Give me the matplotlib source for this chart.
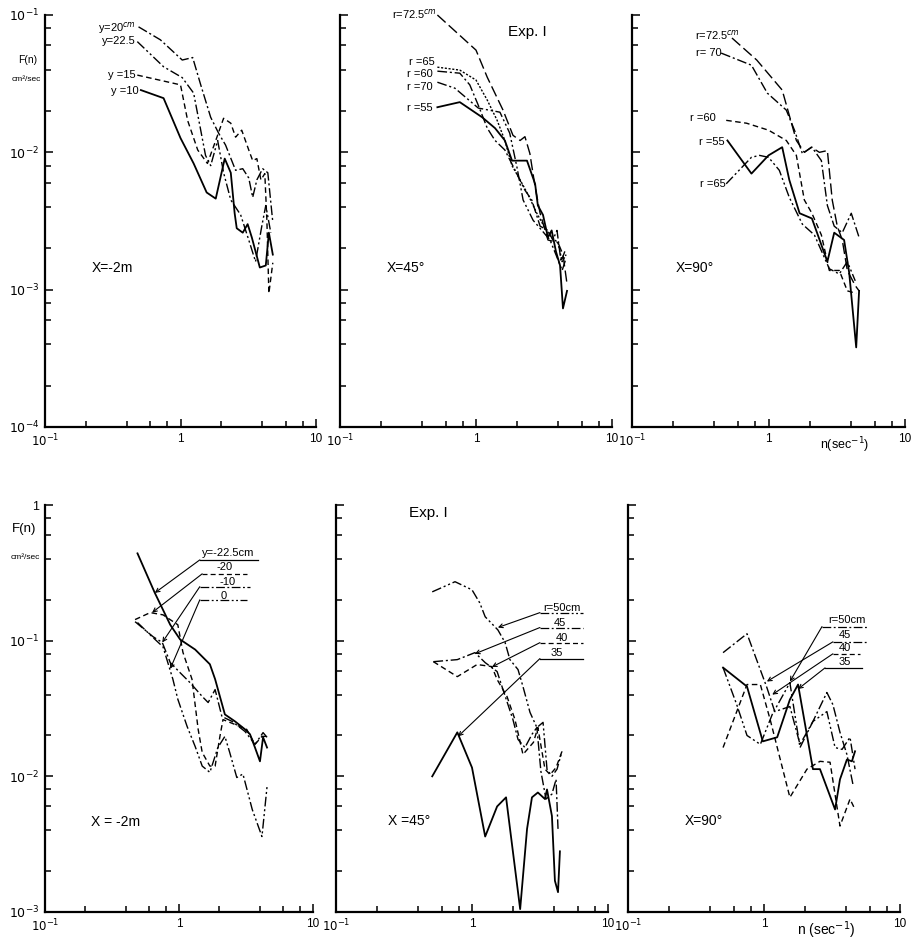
import matplotlib
matplotlib.use("Agg")
import matplotlib.pyplot as plt
from matplotlib.ticker import FixedLocator, LogLocator, FuncFormatter, NullFormatter

plt.rcParams["font.family"] = ["Liberation Sans", "DejaVu Sans"]
plt.rcParams["mathtext.fontset"] = "dejavusans"

# ---------------------------------------------------------------------
# Spectra F(n) [cm^2/sec] vs frequency n [1/sec], Exp. I
# ---------------------------------------------------------------------

# upper row, X = -2 m
tl_n_y20 = [0.49, 0.71, 1.03, 1.23, 1.41, 1.67, 1.91, 2.15, 2.55, 2.88, 3.19, 3.41, 3.66, 4.04, 4.41, 4.80]
tl_F_y20 = [0.082, 0.066, 0.047, 0.049, 0.031, 0.018, 0.0138, 0.0113, 0.0074, 0.0076, 0.0065, 0.0047, 0.0063, 0.0076, 0.0071, 0.0031]
tl_n_y225 = [0.48, 0.75, 1.03, 1.25, 1.41, 1.53, 1.67, 1.88, 2.08, 2.35, 2.78, 3.19, 3.58, 3.98, 4.26, 4.64]
tl_F_y225 = [0.064, 0.042, 0.035, 0.027, 0.0145, 0.0095, 0.008, 0.0122, 0.0071, 0.0045, 0.0035, 0.0023, 0.0016, 0.0029, 0.0041, 0.0026]
tl_n_y15 = [0.48, 1.0, 1.13, 1.34, 1.58, 1.82, 2.08, 2.35, 2.55, 2.83, 3.19, 3.41, 3.66, 3.92, 4.19, 4.34, 4.49, 4.80]
tl_F_y15 = [0.0365, 0.031, 0.017, 0.0104, 0.0083, 0.0122, 0.0177, 0.0163, 0.0129, 0.0145, 0.0104, 0.0087, 0.009, 0.0063, 0.007, 0.0032, 0.00094, 0.00157]
tl_n_y10 = [0.51, 0.75, 1.0, 1.25, 1.56, 1.82, 2.12, 2.35, 2.51, 2.60, 2.88, 3.13, 3.36, 3.85, 4.26, 4.49, 4.80]
tl_F_y10 = [0.0284, 0.0248, 0.0127, 0.0083, 0.0051, 0.0046, 0.009, 0.0071, 0.0036, 0.0028, 0.0026, 0.003, 0.0024, 0.00145, 0.0015, 0.0026, 0.0018]

# upper row, X = 45 deg
tm_n_r725 = [0.52, 1.0, 1.21, 1.58, 1.87, 2.11, 2.29, 2.49, 2.72, 2.96, 3.38, 4.01, 4.36, 4.67]
tm_F_r725 = [0.1, 0.0555, 0.0352, 0.0203, 0.0133, 0.0122, 0.013, 0.0098, 0.0056, 0.0036, 0.0023, 0.0022, 0.0018, 0.0011]
tm_n_r65 = [0.52, 0.76, 1.0, 1.21, 1.43, 1.63, 1.84, 2.11, 2.42, 2.8, 3.22, 3.6, 4.01, 4.3, 4.6]
tm_F_r65 = [0.0417, 0.0397, 0.0336, 0.024, 0.0171, 0.0122, 0.008, 0.0063, 0.0049, 0.0036, 0.0028, 0.0024, 0.0022, 0.0016, 0.0018]
tm_n_r60 = [0.52, 0.76, 0.9, 1.04, 1.21, 1.38, 1.63, 1.94, 2.29, 2.57, 2.96, 3.38, 3.67, 3.94, 4.22, 4.5]
tm_F_r60 = [0.039, 0.0377, 0.031, 0.022, 0.015, 0.0122, 0.0104, 0.0074, 0.0053, 0.0045, 0.0029, 0.0027, 0.0023, 0.0027, 0.0016, 0.0019]
tm_n_r70 = [0.52, 0.7, 1.04, 1.5, 1.77, 2.0, 2.22, 2.63, 3.05, 3.5, 3.87, 4.3, 4.6]
tm_F_r70 = [0.0324, 0.0293, 0.021, 0.0196, 0.0138, 0.0078, 0.0045, 0.0032, 0.0027, 0.0023, 0.0018, 0.00138, 0.0017]
tm_n_r55 = [0.52, 0.76, 1.11, 1.38, 1.63, 1.84, 2.37, 2.72, 2.85, 3.11, 3.38, 3.6, 3.87, 4.15, 4.36, 4.67]
tm_F_r55 = [0.0213, 0.0232, 0.018, 0.015, 0.0122, 0.0087, 0.0087, 0.0059, 0.0041, 0.0035, 0.0024, 0.0027, 0.0019, 0.0015, 0.00073, 0.00098]

# upper row, X = 90 deg
tr_n_r725 = [0.54, 0.82, 1.26, 1.42, 1.6, 1.83, 2.06, 2.36, 2.7, 2.93, 3.19, 3.47, 3.78, 4.32, 4.61]
tr_F_r725 = [0.068, 0.047, 0.0284, 0.0186, 0.0122, 0.010, 0.0109, 0.010, 0.0103, 0.0045, 0.0029, 0.0023, 0.00138, 0.00107, 0.00098]
tr_n_r70 = [0.45, 0.75, 0.98, 1.35, 1.55, 1.77, 2.08, 2.44, 2.7, 3.03, 3.47, 4.04, 4.61]
tr_F_r70 = [0.0528, 0.0431, 0.027, 0.0203, 0.0145, 0.0098, 0.0109, 0.0087, 0.0041, 0.0029, 0.0026, 0.0036, 0.0024]
tr_n_r60 = [0.49, 0.69, 1.0, 1.35, 1.6, 1.69, 1.83, 2.08, 2.44, 2.79, 3.3, 3.78, 4.39]
tr_F_r60 = [0.0171, 0.0163, 0.0145, 0.0122, 0.0095, 0.007, 0.0045, 0.0036, 0.0025, 0.00138, 0.00138, 0.00098, 0.00094]
tr_n_r55 = [0.5, 0.75, 1.0, 1.26, 1.42, 1.69, 2.08, 2.7, 3.03, 3.58, 3.9, 4.39, 4.61]
tr_F_r55 = [0.0122, 0.007, 0.0095, 0.0109, 0.0063, 0.0036, 0.0033, 0.0016, 0.0026, 0.0023, 0.00133, 0.00038, 0.00098]
tr_n_r65 = [0.49, 0.75, 0.86, 1.0, 1.2, 1.42, 1.77, 2.17, 2.79, 3.3, 3.78, 4.32]
tr_F_r65 = [0.0059, 0.0092, 0.0095, 0.0092, 0.0074, 0.0047, 0.003, 0.0025, 0.00142, 0.0013, 0.0016, 0.00116]

# lower row, X = -2 m
bl_n_m225 = [0.49, 0.66, 0.86, 1.02, 1.32, 1.7, 1.86, 2.2, 2.62, 3.11, 3.39, 3.69, 4.02, 4.24, 4.54]
bl_F_m225 = [0.44, 0.225, 0.131, 0.102, 0.086, 0.067, 0.052, 0.0286, 0.0254, 0.0222, 0.0204, 0.0163, 0.0129, 0.0194, 0.0163]
bl_n_m20 = [0.47, 0.61, 0.76, 0.98, 1.07, 1.25, 1.39, 1.49, 1.7, 1.86, 2.02, 2.13, 2.62, 3.2, 3.69, 4.16, 4.54]
bl_F_m20 = [0.143, 0.161, 0.155, 0.131, 0.082, 0.052, 0.0222, 0.015, 0.0119, 0.0119, 0.0197, 0.0262, 0.0241, 0.0222, 0.0172, 0.0197, 0.0197]
bl_n_m10 = [0.47, 0.64, 0.75, 0.86, 1.02, 1.21, 1.49, 1.65, 1.86, 2.09, 2.49, 3.11, 3.69, 4.24, 4.54]
bl_F_m10 = [0.138, 0.107, 0.097, 0.069, 0.058, 0.049, 0.0388, 0.035, 0.0436, 0.0276, 0.0254, 0.0214, 0.0172, 0.021, 0.0194]
bl_n_0 = [0.49, 0.63, 0.76, 0.9, 0.98, 1.15, 1.32, 1.49, 1.7, 1.95, 2.2, 2.39, 2.7, 3.0, 3.52, 4.16, 4.54]
bl_F_0 = [0.136, 0.107, 0.090, 0.052, 0.037, 0.0233, 0.0166, 0.0119, 0.0107, 0.0163, 0.0197, 0.015, 0.0098, 0.0104, 0.0057, 0.0036, 0.0084]

# lower row, X = 45 deg
bm_n_r50 = [0.51, 0.75, 1.0, 1.14, 1.25, 1.55, 1.75, 1.9, 2.18, 2.37, 2.67, 3.0, 3.33, 3.56, 3.87, 4.22, 4.59]
bm_F_r50 = [0.229, 0.272, 0.237, 0.19, 0.15, 0.12, 0.097, 0.0725, 0.0612, 0.0459, 0.0296, 0.0229, 0.025, 0.0113, 0.010, 0.0113, 0.0153]
bm_n_r45 = [0.52, 0.78, 1.05, 1.25, 1.53, 1.69, 2.0, 2.18, 2.45, 2.76, 3.0, 3.21, 3.5, 3.87, 4.15, 4.29]
bm_F_r45 = [0.070, 0.0725, 0.0816, 0.0689, 0.0592, 0.0436, 0.0262, 0.0187, 0.0163, 0.0204, 0.0229, 0.0109, 0.0068, 0.0074, 0.0095, 0.0041]
bm_n_r40 = [0.52, 0.78, 1.09, 1.4, 1.53, 1.81, 2.07, 2.37, 2.83, 3.05, 3.44, 3.75, 4.15, 4.59]
bm_F_r40 = [0.070, 0.0543, 0.0667, 0.0644, 0.0517, 0.0387, 0.0262, 0.0145, 0.0178, 0.0229, 0.0113, 0.0103, 0.0116, 0.0153]
bm_n_r35 = [0.51, 0.78, 1.0, 1.25, 1.53, 1.78, 2.26, 2.54, 2.76, 3.05, 3.44, 3.56, 3.87, 4.07, 4.29, 4.43]
bm_F_r35 = [0.010, 0.0211, 0.0116, 0.0036, 0.006, 0.007, 0.00105, 0.0041, 0.007, 0.0076, 0.0068, 0.008, 0.0051, 0.0017, 0.0014, 0.0028]

# lower row, X = 90 deg
br_n_r50 = [0.5, 0.75, 1.05, 1.2, 1.55, 1.84, 2.29, 2.9, 3.21, 3.62, 4.07, 4.51]
br_F_r50 = [0.0816, 0.1125, 0.0451, 0.030, 0.0327, 0.0172, 0.0254, 0.0415, 0.0338, 0.0211, 0.0145, 0.0087]
br_n_r45 = [0.5, 0.63, 0.75, 0.94, 1.15, 1.55, 1.84, 2.29, 2.9, 3.33, 3.75, 4.29, 4.67]
br_F_r45 = [0.0633, 0.0338, 0.020, 0.0172, 0.0286, 0.049, 0.0163, 0.0254, 0.030, 0.0163, 0.0158, 0.0194, 0.0113]
br_n_r40 = [0.5, 0.75, 0.94, 1.11, 1.55, 2.07, 2.58, 3.06, 3.62, 4.29, 4.67]
br_F_r40 = [0.0163, 0.0475, 0.0475, 0.0262, 0.007, 0.0113, 0.0129, 0.0127, 0.0043, 0.0068, 0.0057]
br_n_r35 = [0.5, 0.75, 0.98, 1.25, 1.55, 1.78, 2.29, 2.58, 3.33, 3.62, 4.07, 4.43, 4.67]
br_F_r35 = [0.0633, 0.0459, 0.0181, 0.0194, 0.0368, 0.0475, 0.0113, 0.0113, 0.0057, 0.0095, 0.0133, 0.0129, 0.0153]

# line styles used in the original drawings
SOLID = "-"
DASH = (0, (4, 2.5))
LONGDASH = (0, (8, 3))
DASHDOT = (0, (7, 2, 1.5, 2))
DASHDOTDOT = (0, (7, 2, 1.5, 2, 1.5, 2))
DOT = (0, (1.5, 1.2))

W, H = 917, 940
fig = plt.figure(figsize=(W / 100, H / 100), dpi=100, facecolor="white")

TICK_NAMES = {1e-4: r"$10^{-4}$", 1e-3: r"$10^{-3}$", 1e-2: r"$10^{-2}$",
              1e-1: r"$10^{-1}$", 1.0: "1", 10.0: "10"}


def fmt(v, pos):
    for k, s in TICK_NAMES.items():
        if abs(v - k) < 1e-9 * max(1, k):
            return s
    return ""


def panel(x0, x1, ytop, ybot, ylim, ylabels):
    ax = fig.add_axes([x0 / W, 1 - ybot / H, (x1 - x0) / W, (ybot - ytop) / H])
    ax.set_xscale("log")
    ax.set_yscale("log")
    ax.set_xlim(0.1, 10)
    ax.set_ylim(*ylim)
    ax.set_facecolor("none")
    for s in ("top", "right"):
        ax.spines[s].set_visible(False)
    for s in ("left", "bottom"):
        ax.spines[s].set_linewidth(1.6)
    ax.xaxis.set_major_locator(FixedLocator([0.1, 1, 10]))
    decades = [ylim[0] * 10 ** i for i in range(4)]
    ax.yaxis.set_major_locator(FixedLocator(decades))
    ax.xaxis.set_minor_locator(LogLocator(base=10, subs=(2, 4, 6, 8), numticks=20))
    ax.yaxis.set_minor_locator(LogLocator(base=10, subs=(2, 4, 6, 8), numticks=20))
    ax.xaxis.set_major_formatter(FuncFormatter(fmt))
    ax.xaxis.set_minor_formatter(NullFormatter())
    ax.yaxis.set_minor_formatter(NullFormatter())
    if ylabels:
        ax.yaxis.set_major_formatter(FuncFormatter(fmt))
    else:
        ax.yaxis.set_major_formatter(NullFormatter())
    ax.tick_params(which="both", direction="in", width=1.1, pad=4)
    ax.tick_params(axis="y", labelsize=9)
    ax.tick_params(axis="x", labelsize=8.5)
    ax.tick_params(which="major", length=6)
    ax.tick_params(which="minor", length=4)
    return ax


def curve(ax, n, F, ls, lw=1.0):
    ax.plot(n, F, color="black", linestyle=ls, linewidth=lw, clip_on=False)


def label(ax, n, F, s, ha="right", size=8):
    ax.text(n, F, s, ha=ha, va="center", fontsize=size, color="black")


def tag(ax, n, F, s, n0, n1, Fline, tip, ls):
    # label sitting on a short rule, with a leader arrow to its curve
    ax.text(n, F, s, ha="center", va="center", fontsize=8)
    ax.plot([n0, n1], [Fline, Fline], color="black", linestyle=ls, linewidth=0.9)
    ax.annotate("", xy=tip, xytext=(n0, Fline),
                arrowprops=dict(arrowstyle="->", lw=0.8, color="black",
                                shrinkA=0, shrinkB=0, mutation_scale=7))


TOP = (1e-4, 1e-1)
BOT = (1e-3, 1.0)

ax_tl = panel(45, 316, 15, 427, TOP, True)
ax_tm = panel(340, 612, 15, 427, TOP, False)
ax_tr = panel(632, 905, 15, 427, TOP, False)
ax_bl = panel(45, 313, 505, 912, BOT, True)
ax_bm = panel(336, 608, 505, 912, BOT, False)
ax_br = panel(628, 900, 505, 912, BOT, False)

# --- upper left ---
curve(ax_tl, tl_n_y20, tl_F_y20, DASHDOT)
curve(ax_tl, tl_n_y225, tl_F_y225, DASHDOTDOT)
curve(ax_tl, tl_n_y15, tl_F_y15, DASH)
curve(ax_tl, tl_n_y10, tl_F_y10, SOLID, 1.3)
label(ax_tl, 0.47, 0.081, r"y=20$^{cm}$")
label(ax_tl, 0.47, 0.065, "y=22.5")
label(ax_tl, 0.47, 0.0365, "y =15")
label(ax_tl, 0.49, 0.0280, "y =10")
label(ax_tl, 0.22, 0.00145, "X=-2m", ha="left", size=10)
ax_tl.text(-0.065, 0.89, "F(n)", transform=ax_tl.transAxes, ha="center", va="center", fontsize=7.5)
ax_tl.text(-0.07, 0.843, "cm²/sec", transform=ax_tl.transAxes, ha="center", va="center", fontsize=6)

# --- upper middle ---
curve(ax_tm, tm_n_r725, tm_F_r725, LONGDASH)
curve(ax_tm, tm_n_r65, tm_F_r65, DOT)
curve(ax_tm, tm_n_r60, tm_F_r60, DASHDOT)
curve(ax_tm, tm_n_r70, tm_F_r70, DASHDOTDOT)
curve(ax_tm, tm_n_r55, tm_F_r55, SOLID, 1.3)
label(ax_tm, 0.52, 0.101, r"r=72.5$^{cm}$")
label(ax_tm, 0.50, 0.0454, "r =65")
label(ax_tm, 0.48, 0.0370, "r =60")
label(ax_tm, 0.48, 0.0298, "r =70")
label(ax_tm, 0.48, 0.0210, "r =55")
label(ax_tm, 0.22, 0.00145, "X=45°", ha="left", size=10)
ax_tm.text(2.37, 0.075, "Exp. I", ha="center", va="center", fontsize=11)

# --- upper right ---
curve(ax_tr, tr_n_r725, tr_F_r725, LONGDASH)
curve(ax_tr, tr_n_r70, tr_F_r70, DASHDOT)
curve(ax_tr, tr_n_r60, tr_F_r60, DASH)
curve(ax_tr, tr_n_r55, tr_F_r55, SOLID, 1.3)
curve(ax_tr, tr_n_r65, tr_F_r65, DASHDOTDOT)
label(ax_tr, 0.62, 0.071, r"r=72.5$^{cm}$")
label(ax_tr, 0.45, 0.0528, "r= 70")
label(ax_tr, 0.41, 0.0177, "r =60")
label(ax_tr, 0.48, 0.0118, "r =55")
label(ax_tr, 0.49, 0.0059, "r =65")
label(ax_tr, 0.21, 0.00145, "X=90°", ha="left", size=10)
ax_tr.text(0.78, -0.045, r"n(sec$^{-1}$)", transform=ax_tr.transAxes,
           ha="center", va="center", fontsize=9)

# --- lower left ---
curve(ax_bl, bl_n_m225, bl_F_m225, SOLID, 1.3)
curve(ax_bl, bl_n_m20, bl_F_m20, DASH)
curve(ax_bl, bl_n_m10, bl_F_m10, DASHDOT)
curve(ax_bl, bl_n_0, bl_F_0, DASHDOTDOT)
tag(ax_bl, 2.32, 0.444, "y=-22.5cm", 1.43, 3.89, 0.394, (0.66, 0.225), SOLID)
tag(ax_bl, 2.2, 0.350, "-20", 1.49, 3.21, 0.311, (0.63, 0.161), DASH)
tag(ax_bl, 2.32, 0.272, "-10", 1.43, 3.39, 0.250, (0.75, 0.097), DASHDOT)
tag(ax_bl, 2.17, 0.214, "0", 1.43, 3.21, 0.200, (0.86, 0.062), DASHDOTDOT)
label(ax_bl, 0.22, 0.0046, "X = -2m", ha="left", size=10)
ax_bl.text(-0.078, 0.94, "F(n)", transform=ax_bl.transAxes, ha="center", va="center", fontsize=9.5)
ax_bl.text(-0.075, 0.87, "cm²/sec", transform=ax_bl.transAxes, ha="center", va="center", fontsize=6)

# --- lower middle ---
curve(ax_bm, bm_n_r50, bm_F_r50, DASHDOTDOT)
curve(ax_bm, bm_n_r45, bm_F_r45, DASHDOT)
curve(ax_bm, bm_n_r40, bm_F_r40, DASH)
curve(ax_bm, bm_n_r35, bm_F_r35, SOLID, 1.3)
tag(ax_bm, 4.6, 0.173, "r=50cm", 3.16, 6.55, 0.161, (1.55, 0.125), DASHDOTDOT)
tag(ax_bm, 4.43, 0.134, "45", 3.16, 6.55, 0.125, (1.05, 0.080), DASHDOT)
tag(ax_bm, 4.59, 0.104, "40", 3.16, 6.55, 0.0967, (1.4, 0.064), DASH)
tag(ax_bm, 4.22, 0.081, "35", 3.16, 6.55, 0.0738, (0.79, 0.0197), SOLID)
label(ax_bm, 0.24, 0.0047, "X =45°", ha="left", size=10)
ax_bm.text(0.474, 0.873, "Exp. I", ha="center", va="center", fontsize=11)

# --- lower right ---
curve(ax_br, br_n_r50, br_F_r50, DASHDOT)
curve(ax_br, br_n_r45, br_F_r45, DASHDOTDOT)
curve(ax_br, br_n_r40, br_F_r40, DASH)
curve(ax_br, br_n_r35, br_F_r35, SOLID, 1.3)
tag(ax_br, 4.07, 0.141, "r=50cm", 2.67, 5.82, 0.127, (1.55, 0.050), DASHDOT)
tag(ax_br, 3.94, 0.110, "45", 3.21, 5.82, 0.098, (1.05, 0.050), DASHDOTDOT)
tag(ax_br, 3.94, 0.088, "40", 3.21, 5.08, 0.080, (1.15, 0.040), DASH)
tag(ax_br, 3.94, 0.070, "35", 2.81, 5.26, 0.063, (1.78, 0.044), SOLID)
label(ax_br, 0.26, 0.0047, "X=90°", ha="left", size=10)
ax_br.text(0.73, -0.045, r"n (sec$^{-1}$)", transform=ax_br.transAxes,
           ha="center", va="center", fontsize=10)

fig.savefig("out.png", dpi=100, facecolor="white")
